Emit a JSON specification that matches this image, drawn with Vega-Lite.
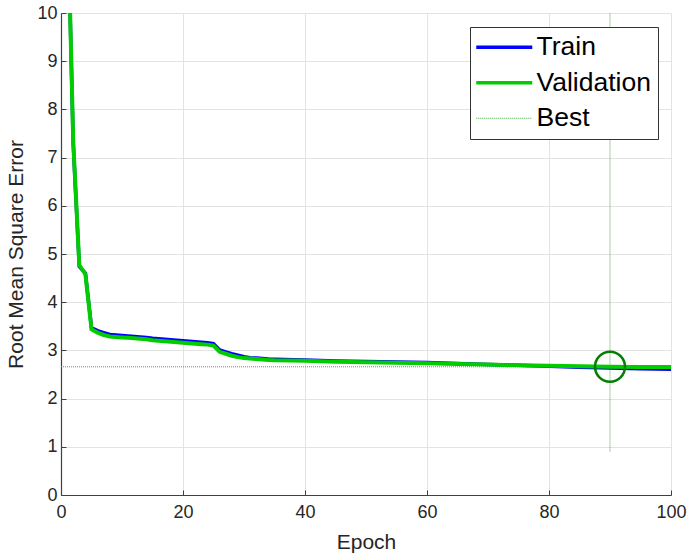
{
  "$schema": "https://vega.github.io/schema/vega-lite/v6.json",
  "autosize": {"type": "none"},
  "padding": {"left": 61, "top": 13, "right": 18, "bottom": 61},
  "width": 610,
  "height": 482,
  "background": "white",
  "config": {
    "view": {"stroke": null},
    "font": "Liberation Sans",
    "axis": {
      "labelFont": "Liberation Sans",
      "labelFontSize": 18,
      "labelColor": "#262626",
      "titleFont": "Liberation Sans",
      "titleFontSize": 21,
      "titleFontWeight": "normal",
      "titleColor": "#262626",
      "domainColor": "#404040",
      "domainWidth": 1.2,
      "tickColor": "#404040",
      "tickSize": -5,
      "gridColor": "#e3e3e3",
      "gridWidth": 1
    }
  },
  "datasets": {
    "curves": [
      {"epoch": 0, "rmse": 22, "series": "Train"},
      {"epoch": 1, "rmse": 12.6, "series": "Train"},
      {"epoch": 2, "rmse": 7.3, "series": "Train"},
      {"epoch": 3, "rmse": 4.74, "series": "Train"},
      {"epoch": 4, "rmse": 4.6, "series": "Train"},
      {"epoch": 5, "rmse": 3.47, "series": "Train"},
      {"epoch": 6, "rmse": 3.41, "series": "Train"},
      {"epoch": 7, "rmse": 3.37, "series": "Train"},
      {"epoch": 8, "rmse": 3.33, "series": "Train"},
      {"epoch": 9, "rmse": 3.32, "series": "Train"},
      {"epoch": 10, "rmse": 3.31, "series": "Train"},
      {"epoch": 11, "rmse": 3.3, "series": "Train"},
      {"epoch": 12, "rmse": 3.29, "series": "Train"},
      {"epoch": 13, "rmse": 3.28, "series": "Train"},
      {"epoch": 14, "rmse": 3.27, "series": "Train"},
      {"epoch": 15, "rmse": 3.25, "series": "Train"},
      {"epoch": 16, "rmse": 3.24, "series": "Train"},
      {"epoch": 17, "rmse": 3.23, "series": "Train"},
      {"epoch": 18, "rmse": 3.22, "series": "Train"},
      {"epoch": 19, "rmse": 3.21, "series": "Train"},
      {"epoch": 20, "rmse": 3.2, "series": "Train"},
      {"epoch": 21, "rmse": 3.19, "series": "Train"},
      {"epoch": 22, "rmse": 3.18, "series": "Train"},
      {"epoch": 23, "rmse": 3.17, "series": "Train"},
      {"epoch": 24, "rmse": 3.16, "series": "Train"},
      {"epoch": 25, "rmse": 3.14, "series": "Train"},
      {"epoch": 26, "rmse": 3.01, "series": "Train"},
      {"epoch": 27, "rmse": 2.97, "series": "Train"},
      {"epoch": 28, "rmse": 2.93, "series": "Train"},
      {"epoch": 29, "rmse": 2.9, "series": "Train"},
      {"epoch": 30, "rmse": 2.87, "series": "Train"},
      {"epoch": 31, "rmse": 2.85, "series": "Train"},
      {"epoch": 32, "rmse": 2.84, "series": "Train"},
      {"epoch": 33, "rmse": 2.83, "series": "Train"},
      {"epoch": 34, "rmse": 2.82, "series": "Train"},
      {"epoch": 35, "rmse": 2.815, "series": "Train"},
      {"epoch": 40, "rmse": 2.8, "series": "Train"},
      {"epoch": 45, "rmse": 2.78, "series": "Train"},
      {"epoch": 50, "rmse": 2.77, "series": "Train"},
      {"epoch": 55, "rmse": 2.76, "series": "Train"},
      {"epoch": 60, "rmse": 2.75, "series": "Train"},
      {"epoch": 65, "rmse": 2.73, "series": "Train"},
      {"epoch": 70, "rmse": 2.71, "series": "Train"},
      {"epoch": 75, "rmse": 2.69, "series": "Train"},
      {"epoch": 80, "rmse": 2.67, "series": "Train"},
      {"epoch": 85, "rmse": 2.65, "series": "Train"},
      {"epoch": 90, "rmse": 2.635, "series": "Train"},
      {"epoch": 95, "rmse": 2.62, "series": "Train"},
      {"epoch": 100, "rmse": 2.61, "series": "Train"},
      {"epoch": 0, "rmse": 22, "series": "Validation"},
      {"epoch": 1, "rmse": 12.6, "series": "Validation"},
      {"epoch": 2, "rmse": 7.35, "series": "Validation"},
      {"epoch": 3, "rmse": 4.77, "series": "Validation"},
      {"epoch": 4, "rmse": 4.58, "series": "Validation"},
      {"epoch": 5, "rmse": 3.44, "series": "Validation"},
      {"epoch": 6, "rmse": 3.37, "series": "Validation"},
      {"epoch": 7, "rmse": 3.32, "series": "Validation"},
      {"epoch": 8, "rmse": 3.29, "series": "Validation"},
      {"epoch": 9, "rmse": 3.28, "series": "Validation"},
      {"epoch": 10, "rmse": 3.27, "series": "Validation"},
      {"epoch": 11, "rmse": 3.26, "series": "Validation"},
      {"epoch": 12, "rmse": 3.25, "series": "Validation"},
      {"epoch": 13, "rmse": 3.24, "series": "Validation"},
      {"epoch": 14, "rmse": 3.23, "series": "Validation"},
      {"epoch": 15, "rmse": 3.21, "series": "Validation"},
      {"epoch": 16, "rmse": 3.2, "series": "Validation"},
      {"epoch": 17, "rmse": 3.19, "series": "Validation"},
      {"epoch": 18, "rmse": 3.18, "series": "Validation"},
      {"epoch": 19, "rmse": 3.17, "series": "Validation"},
      {"epoch": 20, "rmse": 3.16, "series": "Validation"},
      {"epoch": 21, "rmse": 3.15, "series": "Validation"},
      {"epoch": 22, "rmse": 3.14, "series": "Validation"},
      {"epoch": 23, "rmse": 3.13, "series": "Validation"},
      {"epoch": 24, "rmse": 3.12, "series": "Validation"},
      {"epoch": 25, "rmse": 3.1, "series": "Validation"},
      {"epoch": 26, "rmse": 2.97, "series": "Validation"},
      {"epoch": 27, "rmse": 2.93, "series": "Validation"},
      {"epoch": 28, "rmse": 2.89, "series": "Validation"},
      {"epoch": 29, "rmse": 2.86, "series": "Validation"},
      {"epoch": 30, "rmse": 2.84, "series": "Validation"},
      {"epoch": 31, "rmse": 2.83, "series": "Validation"},
      {"epoch": 32, "rmse": 2.82, "series": "Validation"},
      {"epoch": 33, "rmse": 2.81, "series": "Validation"},
      {"epoch": 34, "rmse": 2.8, "series": "Validation"},
      {"epoch": 35, "rmse": 2.795, "series": "Validation"},
      {"epoch": 40, "rmse": 2.785, "series": "Validation"},
      {"epoch": 45, "rmse": 2.765, "series": "Validation"},
      {"epoch": 50, "rmse": 2.755, "series": "Validation"},
      {"epoch": 55, "rmse": 2.745, "series": "Validation"},
      {"epoch": 60, "rmse": 2.735, "series": "Validation"},
      {"epoch": 65, "rmse": 2.72, "series": "Validation"},
      {"epoch": 70, "rmse": 2.705, "series": "Validation"},
      {"epoch": 75, "rmse": 2.69, "series": "Validation"},
      {"epoch": 80, "rmse": 2.68, "series": "Validation"},
      {"epoch": 85, "rmse": 2.67, "series": "Validation"},
      {"epoch": 90, "rmse": 2.66, "series": "Validation"},
      {"epoch": 95, "rmse": 2.658, "series": "Validation"},
      {"epoch": 100, "rmse": 2.655, "series": "Validation"}
    ],
    "best": [
      {"epoch": 0, "epoch2": 100, "rmse": 2.66, "rmse2": 2.66, "series": "Best"},
      {"epoch": 90, "epoch2": 90, "rmse": 0.9, "rmse2": 10, "series": "Best"}
    ],
    "bestpoint": [
      {"epoch": 90, "rmse": 2.66}
    ]
  },
  "encoding": {
    "x": {
      "field": "epoch",
      "type": "quantitative",
      "title": "Epoch",
      "scale": {"domain": [0, 100], "nice": false, "zero": false},
      "axis": {"values": [0, 20, 40, 60, 80, 100], "labelPadding": 13, "titlePadding": 10, "labelFlush": false}
    },
    "y": {
      "field": "rmse",
      "type": "quantitative",
      "title": "Root Mean Square Error",
      "scale": {"domain": [0, 10], "nice": false, "zero": false},
      "axis": {"values": [0, 1, 2, 3, 4, 5, 6, 7, 8, 9, 10], "labelPadding": 9, "titlePadding": 10, "labelFlush": false}
    }
  },
  "layer": [
    {
      "data": {"name": "best"},
      "mark": {"type": "rule", "strokeWidth": 1, "strokeDash": [1, 1], "clip": true},
      "encoding": {
        "x2": {"field": "epoch2"},
        "y2": {"field": "rmse2"},
        "color": {"field": "series", "type": "nominal"}
      }
    },
    {
      "data": {"name": "curves"},
      "transform": [{"filter": "datum.series === 'Train'"}],
      "mark": {"type": "line", "strokeWidth": 3.5, "clip": true},
      "encoding": {
        "color": {"field": "series", "type": "nominal"}
      }
    },
    {
      "data": {"name": "curves"},
      "transform": [{"filter": "datum.series === 'Validation'"}],
      "mark": {"type": "line", "strokeWidth": 4, "clip": true},
      "encoding": {
        "color": {
          "field": "series",
          "type": "nominal",
          "scale": {"domain": ["Train", "Validation", "Best"], "range": ["#0000ff", "#00cc00", "#3fae3f"]},
          "legend": {
            "title": null,
            "orient": "none",
            "legendX": 409,
            "legendY": 14,
            "symbolType": "stroke",
            "symbolSize": 3136,
            "symbolStrokeWidth": 3.5,
            "symbolOffset": 14,
            "labelFont": "Liberation Sans",
            "labelFontSize": 26.5,
            "labelColor": "#000000",
            "labelOffset": 19,
            "rowPadding": 8.5,
            "padding": 7,
            "strokeColor": "#333333",
            "fillColor": "#ffffff",
            "cornerRadius": 0,
            "encode": {
              "symbols": {
                "update": {
                  "strokeDash": {"signal": "datum.value === 'Best' ? [1, 1] : [1, 0]"},
                  "strokeWidth": {"signal": "datum.value === 'Best' ? 1 : 3.5"}
                }
              }
            }
          }
        }
      }
    },
    {
      "data": {"name": "bestpoint"},
      "mark": {"type": "point", "shape": "circle", "size": 900, "filled": false, "stroke": "#007f00", "strokeWidth": 2.5, "opacity": 1},
      "encoding": {}
    }
  ]
}
